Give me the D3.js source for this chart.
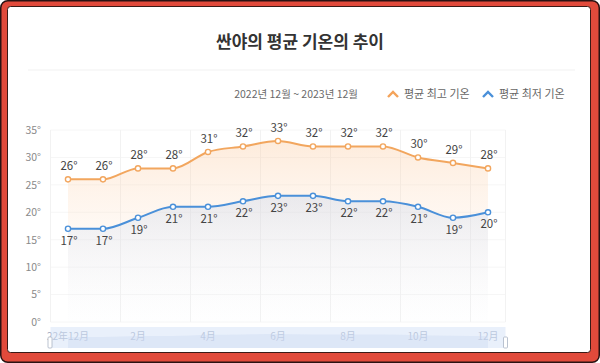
<!DOCTYPE html>
<html><head><meta charset="utf-8">
<script src="https://cdn.jsdelivr.net/npm/d3@7/dist/d3.min.js"></script>
<style>html,body{margin:0;padding:0;background:#fff;}svg{display:block;}</style>
</head><body>
<script>
const categories = ["22年12月","1月","2月","3月","4月","5月","6月","7月","8月","9月","10月","11月","12月"];
const highTemps = [26,26,28,28,31,32,33,32,32,32,30,29,28];
const lowTemps  = [17,17,19,21,21,22,23,23,22,22,21,19,20];
const yTicks = [0,5,10,15,20,25,30,35];
const titleText = "싼야의 평균 기온의 추이";
const subtitleText = "2022년 12월 ~ 2023년 12월";
const legendNames = ["평균 최고 기온","평균 최저 기온"];

const W = 600, H = 363;
const font = "'Noto Sans CJK KR','Noto Sans',sans-serif";
const svg = d3.select("body").append("svg").attr("width", W).attr("height", H);
const defs = svg.append("defs");

// frame
svg.append("rect").attr("x",0.75).attr("y",0.75).attr("width",W-1.5).attr("height",H-1.5)
  .attr("rx",7).attr("fill","#e14a3b").attr("stroke","#2a1212").attr("stroke-width",1.5);
svg.append("rect").attr("x",7.5).attr("y",6.5).attr("width",583).attr("height",346)
  .attr("rx",3).attr("fill","#fff").attr("stroke","#3a1a16").attr("stroke-width",1);

// title
svg.append("text").attr("x",300).attr("y",48).attr("text-anchor","middle")
  .attr("font-family",font).attr("font-size",17).attr("font-weight","bold").attr("fill","#333")
  .text(titleText);
svg.append("line").attr("x1",28).attr("x2",575).attr("y1",70).attr("y2",70)
  .attr("stroke","#f1f1f1").attr("stroke-width",1);

// subtitle & legend
svg.append("text").attr("x",358).attr("y",98).attr("text-anchor","end")
  .attr("font-family",font).attr("font-size",10.5).attr("fill","#6a6a6a").text(subtitleText);
const legendColors = ["#f4a35a","#4a90d9"];
const legendX = [388, 483];
legendNames.forEach((n,i)=>{
  const g = svg.append("g").attr("transform",`translate(${legendX[i]},94)`);
  g.append("path").attr("d","M0,3 L5,-2 L10,3").attr("fill","none")
    .attr("stroke",legendColors[i]).attr("stroke-width",2.4);
  g.append("text").attr("x",16).attr("y",4).attr("font-family",font).attr("font-size",11)
    .attr("fill","#666").text(n);
});

// scales
const x = d3.scaleBand().domain(categories).range([50.5,505.5]).paddingInner(0).paddingOuter(0);
const cx = d => x(d) + x.bandwidth()/2;
const y = d3.scaleLinear().domain([0,35]).range([322,130]);

// grid
const grid = svg.append("g");
yTicks.forEach(t=>{
  grid.append("line").attr("x1",50.5).attr("x2",505.5).attr("y1",y(t)).attr("y2",y(t))
    .attr("stroke","#f6f6f6");
});
categories.forEach((c,i)=>{
  if(i%2===0) grid.append("line").attr("x1",x(c)).attr("x2",x(c)).attr("y1",130).attr("y2",322)
    .attr("stroke","#f2f2f2");
});
grid.append("line").attr("x1",505.5).attr("x2",505.5).attr("y1",130).attr("y2",322).attr("stroke","#f2f2f2");

// y axis
const yAxis = d3.axisLeft(y).tickValues(yTicks).tickSize(0).tickFormat(d=>d+"°");
const yg = svg.append("g").attr("transform","translate(44,0)").call(yAxis);
yg.select(".domain").remove();
yg.selectAll("text").attr("font-family",font).attr("font-size",10.5).attr("fill","#8a8a8a").attr("dx",0);

// gradients
function grad(id, c1, o1, c2, o2){
  const g = defs.append("linearGradient").attr("id",id).attr("x1",0).attr("y1",0).attr("x2",0).attr("y2",1);
  g.append("stop").attr("offset","0%").attr("stop-color",c1).attr("stop-opacity",o1);
  g.append("stop").attr("offset","100%").attr("stop-color",c2).attr("stop-opacity",o2);
}
grad("gHigh","#fbc79a",0.35,"#fff3e8",0.0);
grad("gLow","#b9cdec",0.3,"#eef3fb",0.05);

const curve = d3.curveMonotoneX;
const areaGen = vals => d3.area().x((d,i)=>cx(categories[i])).y0(y(0)).y1(d=>y(d)).curve(curve)(vals);
const lineGen = vals => d3.line().x((d,i)=>cx(categories[i])).y(d=>y(d)).curve(curve)(vals);

svg.append("path").attr("d",areaGen(highTemps)).attr("fill","url(#gHigh)");
svg.append("path").attr("d",areaGen(lowTemps)).attr("fill","url(#gLow)");

const series = [
  {vals:highTemps, color:"#f2a65e", above:true},
  {vals:lowTemps, color:"#4a90d9", above:false}
];
series.forEach(s=>{
  svg.append("path").attr("d",lineGen(s.vals)).attr("fill","none").attr("stroke",s.color).attr("stroke-width",2);
  svg.selectAll(null).data(s.vals).enter().append("circle")
    .attr("cx",(d,i)=>cx(categories[i])).attr("cy",d=>y(d)).attr("r",2.6)
    .attr("fill","#fff").attr("stroke",s.color).attr("stroke-width",1.4);
  svg.selectAll(null).data(s.vals).enter().append("text")
    .attr("x",(d,i)=>cx(categories[i])+1).attr("y",d=>y(d)+(s.above?-9:16))
    .attr("text-anchor","middle").attr("font-family",font).attr("font-size",11.5)
    .attr("fill","#444").text(d=>d+"°");
});

// x axis labels
const xAxis = d3.axisBottom(x).tickSize(0).tickFormat((d,i)=> i%2===0 ? d : "");
const xg = svg.append("g").attr("transform","translate(0,330)").call(xAxis);
xg.select(".domain").remove();
xg.selectAll("text").attr("font-family",font).attr("font-size",10).attr("fill","#9aa6bd");

// dataZoom slider overlay
const sy0 = 327, sy1 = 348;
svg.append("rect").attr("x",50.5).attr("y",sy0).attr("width",455).attr("height",sy1-sy0)
  .attr("fill","#d7e3f7").attr("opacity",0.55);
const sy = d3.scaleLinear().domain([0,40]).range([sy1, sy0+4]);
const shadow = d3.area().x((d,i)=>cx(categories[i])).y0(sy1).y1(d=>sy(d)).curve(curve);
svg.append("path").attr("d",shadow(highTemps)).attr("fill","#c9d8f2").attr("opacity",0.35);
svg.append("rect").attr("x",48).attr("y",sy0+10).attr("width",4).attr("height",11)
  .attr("fill","#fff").attr("stroke","#aab4c4").attr("stroke-width",0.8).attr("rx",1);
svg.append("rect").attr("x",503.5).attr("y",sy0+10).attr("width",4).attr("height",11)
  .attr("fill","#fff").attr("stroke","#aab4c4").attr("stroke-width",0.8).attr("rx",1);
</script>
</body></html>
